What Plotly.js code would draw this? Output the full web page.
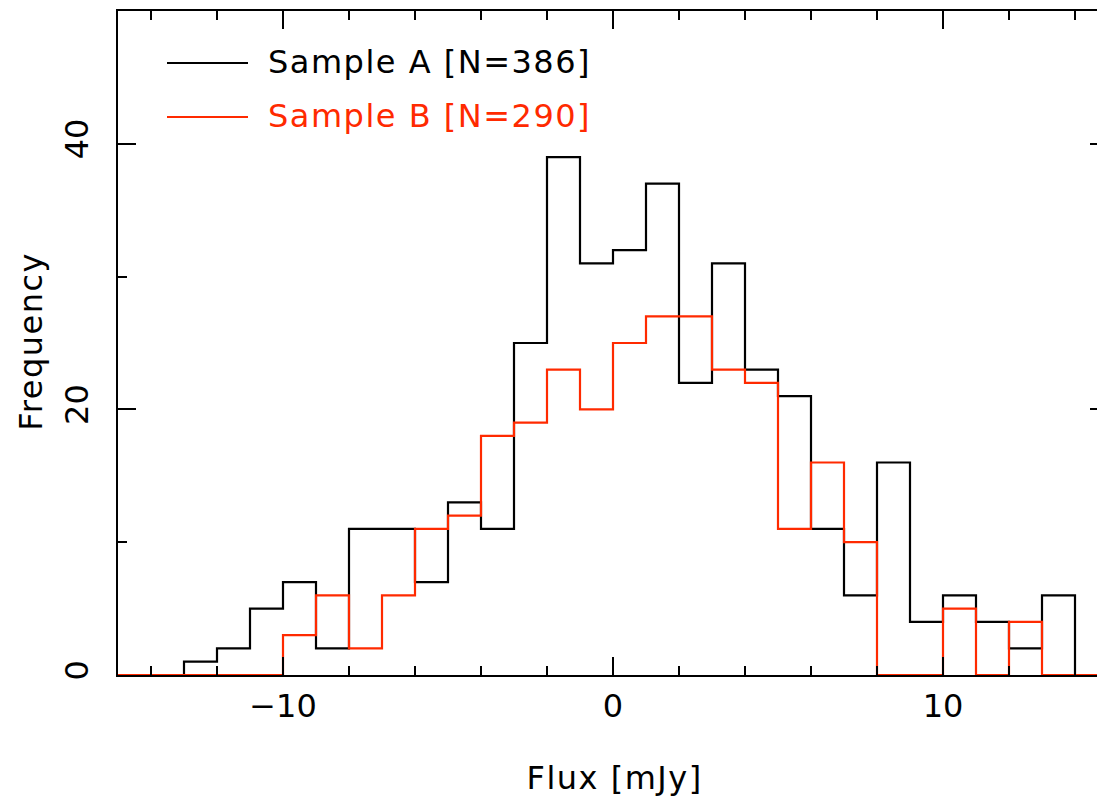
<!DOCTYPE html>
<html>
<head>
<meta charset="utf-8">
<script src="https://cdn.plot.ly/plotly-3.0.1.min.js"></script>
<style>
html, body { margin:0; padding:0; overflow:hidden; background:#fff; }
#chart { width:1115px; height:797px; }
#chart .annotation-text { letter-spacing:1.5px; }
</style>
</head>
<body>
<div id="chart"></div>
<script>
// Bin left edges (bin width 1 mJy), from -15 to 14
var binLeft = [-15,-14,-13,-12,-11,-10,-9,-8,-7,-6,-5,-4,-3,-2,-1,0,1,2,3,4,5,6,7,8,9,10,11,12,13,14];
var binWidth = 1;
var countsA = [0,0,1,2,5,7,2,11,11,7,13,11,25,39,31,32,37,22,31,23,21,11,6,16,4,6,4,2,6,0];
var countsB = [0,0,0,0,0,3,6,2,6,11,12,18,19,23,20,25,27,27,23,22,11,16,10,0,0,5,0,4,0,0];
var labelA = "Sample A [N=386]";
var labelB = "Sample B [N=290]";
var colorA = "#000000";
var colorB = "#ff2a00";

function stepXY(left, counts) {
  var x = left.slice();
  x.push(left[left.length-1] + binWidth);
  var y = counts.slice();
  y.push(counts[counts.length-1]);
  return {x:x, y:y};
}
var sA = stepXY(binLeft, countsA);
var sB = stepXY(binLeft, countsB);

var FONT = "DejaVu Sans";
var FS = 32;

var traces = [
  {x:sA.x, y:sA.y, type:'scatter', mode:'lines', line:{shape:'hv', color:colorA, width:2.2}, showlegend:false, hoverinfo:'skip'},
  {x:sB.x, y:sB.y, type:'scatter', mode:'lines', line:{shape:'hv', color:colorB, width:2.2}, showlegend:false, hoverinfo:'skip'}
];

var layout = {
  width:1115, height:797,
  margin:{l:118, r:7, t:11, b:122},
  paper_bgcolor:'#fff', plot_bgcolor:'#fff',
  font:{family:FONT, size:FS, color:'#000'},
  xaxis:{
    range:[-15,15], showgrid:false, zeroline:false,
    showline:true, linewidth:2, linecolor:'#000', mirror:'allticks',
    ticks:'inside', ticklen:18, tickwidth:2, tickcolor:'#000', dtick:10, tick0:0,
    minor:{dtick:2, tick0:0, ticks:'inside', ticklen:9, tickwidth:2, tickcolor:'#000'},
    tickfont:{family:FONT, size:FS}, ticklabelstandoff:2
  },
  yaxis:{
    range:[0,50], showgrid:false, zeroline:false,
    showline:true, linewidth:2, linecolor:'#000', mirror:'allticks',
    ticks:'inside', ticklen:18, tickwidth:2, tickcolor:'#000', dtick:20, tick0:0,
    minor:{dtick:10, tick0:0, ticks:'inside', ticklen:9, tickwidth:2, tickcolor:'#000'},
    tickangle:-90, tickfont:{family:FONT, size:FS}, ticklabelstandoff:15
  },
  shapes:[
    {type:'line', xref:'paper', yref:'paper', x0:(167-118)/990, x1:(248-118)/990, y0:(675-63)/664, y1:(675-63)/664, line:{color:colorA, width:2}},
    {type:'line', xref:'paper', yref:'paper', x0:(167-118)/990, x1:(248-118)/990, y0:(675-117)/664, y1:(675-117)/664, line:{color:colorB, width:2}}
  ],
  annotations:[
    {text:labelA, xref:'paper', yref:'paper', x:(278-118)/990, y:(675-62)/664, xanchor:'left', yanchor:'middle', showarrow:false, font:{family:FONT, size:FS, color:colorA}},
    {text:labelB, xref:'paper', yref:'paper', x:(278-118)/990, y:(675-116)/664, xanchor:'left', yanchor:'middle', showarrow:false, font:{family:FONT, size:FS, color:colorB}},
    {text:"Flux [mJy]", xref:'paper', yref:'paper', x:(614-118)/990, y:(675-778)/664, xanchor:'center', yanchor:'middle', showarrow:false, font:{family:FONT, size:FS}},
    {text:"Frequency", xref:'paper', yref:'paper', x:(31-118)/990, y:(675-342)/664, xanchor:'center', yanchor:'middle', textangle:-90, showarrow:false, font:{family:FONT, size:FS}}
  ]
};

Plotly.newPlot('chart', traces, layout, {displayModeBar:false, staticPlot:true});
</script>
</body>
</html>
